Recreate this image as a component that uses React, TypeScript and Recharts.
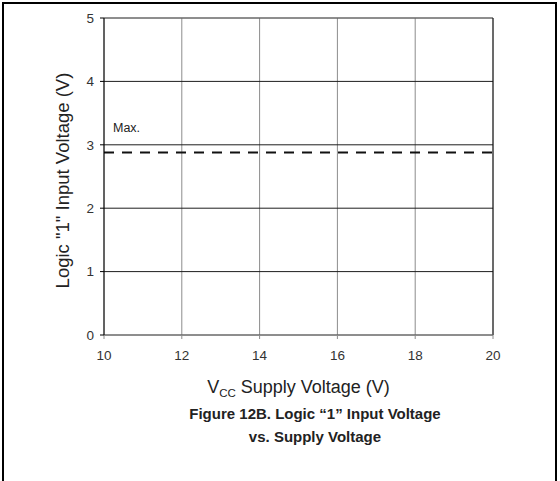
import React from "react";
import {
  ComposedChart,
  Line,
  XAxis,
  YAxis,
  CartesianGrid,
  ReferenceLine,
  Label,
} from "recharts";

// Supply voltage axis (V)
const vccTicks = [10, 12, 14, 16, 18, 20];
// Input voltage axis (V)
const vinTicks = [0, 1, 2, 3, 4, 5];
// Maximum logic "1" input threshold across the supply range
const maxSupply = [10, 20];
const maxThreshold = [2.88, 2.88];

const maxData = maxSupply.map((v, i) => ({ vcc: v, vih: maxThreshold[i] }));

const FONT = "'Liberation Sans', Arial, Helvetica, sans-serif";

const MaxLabel = (props: any) => {
  const { x, y, index } = props;
  if (index !== 0) return null;
  return (
    <text
      x={x + 9}
      y={y - 20}
      fontFamily={FONT}
      fontSize={12.5}
      fill="#222"
    >
      Max.
    </text>
  );
};

export default function App() {
  return (
    <div
      style={{
        position: "absolute",
        left: 0,
        top: 0,
        width: 560,
        height: 481,
        background: "#fff",
        overflow: "hidden",
      }}
    >
      <div
        style={{
          position: "absolute",
          left: 2,
          top: 2,
          width: 551,
          height: 500,
          border: "2px solid #000",
          borderBottom: "none",
        }}
      />
      <div style={{ position: "absolute", left: 0, top: 0 }}>
        <ComposedChart
          width={560}
          height={481}
          data={maxData}
          margin={{ top: 18, right: 67, bottom: 116, left: 64 }}
        >
          <CartesianGrid horizontal={false} stroke="#8c8c8c" strokeWidth={1} />
          <CartesianGrid vertical={false} stroke="#1e1e1e" strokeWidth={1} />
          <XAxis
            dataKey="vcc"
            type="number"
            domain={[10, 20]}
            ticks={vccTicks}
            allowDataOverflow
            stroke="#8c8c8c"
            tickSize={4}
            tickMargin={11}
            tick={{ fill: "#333", fontSize: 13.5, fontFamily: FONT }}
          >
            <Label
              position="bottom"
              offset={0}
              content={(p: any) => {
                const vb = p.viewBox;
                const cx = vb.x + vb.width / 2;
                return (
                  <text
                    x={cx}
                    y={393}
                    textAnchor="middle"
                    fontFamily={FONT}
                    fontSize={18}
                    fill="#222"
                  >
                    <tspan>V</tspan>
                    <tspan fontSize={11.5} dy={4}>
                      CC
                    </tspan>
                    <tspan dy={-4}> Supply Voltage (V)</tspan>
                  </text>
                );
              }}
            />
          </XAxis>
          <YAxis
            type="number"
            domain={[0, 5]}
            ticks={vinTicks}
            width={40}
            stroke="#000"
            tickSize={4}
            tickMargin={6}
            tick={{ fill: "#333", fontSize: 13.5, fontFamily: FONT }}
          >
            <Label
              angle={-90}
              position="insideLeft"
              content={(p: any) => {
                const vb = p.viewBox;
                const cy = vb.y + vb.height / 2;
                return (
                  <text
                    x={69}
                    y={cy + 4}
                    transform={`rotate(-90, 69, ${cy + 4})`}
                    textAnchor="middle"
                    fontFamily={FONT}
                    fontSize={18.5}
                    fill="#222"
                  >
                    Logic "1" Input Voltage (V)
                  </text>
                );
              }}
            />
          </YAxis>
          <ReferenceLine y={5} stroke="#8c8c8c" />
          <ReferenceLine x={20} stroke="#111" />
          <Line
            dataKey="vih"
            type="linear"
            stroke="#111"
            strokeWidth={2}
            strokeDasharray="10 8"
            dot={false}
            activeDot={false}
            label={<MaxLabel />}
            isAnimationActive={false}
          />
        </ComposedChart>
      </div>
      <div
        style={{
          position: "absolute",
          left: 0,
          width: 630,
          top: 402,
          textAlign: "center",
          fontFamily: FONT,
          fontWeight: "bold",
          fontSize: 15,
          lineHeight: "23px",
          color: "#222",
        }}
      >
        Figure 12B. Logic “1” Input Voltage
        <br />
        vs. Supply Voltage
      </div>
    </div>
  );
}
